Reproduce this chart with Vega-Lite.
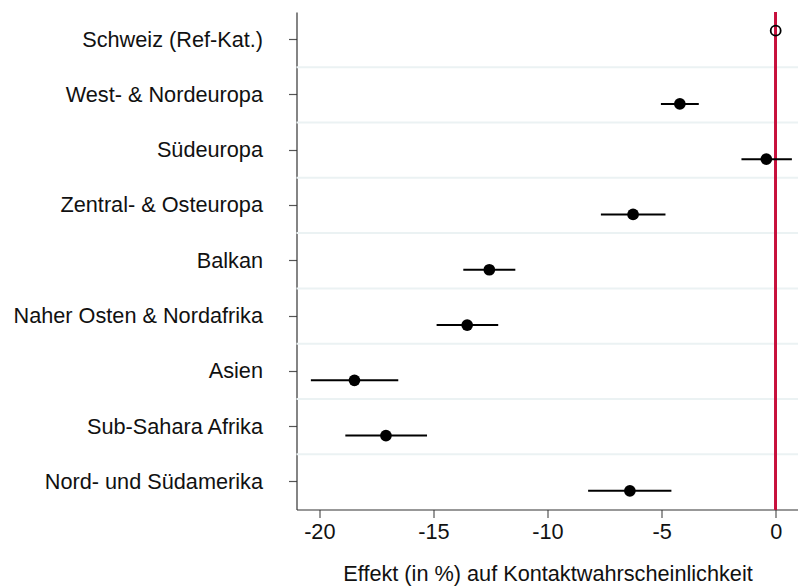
{
  "$schema": "https://vega.github.io/schema/vega-lite/v6.json",
  "width": 502,
  "height": 497.5,
  "autosize": {"type": "none"},
  "padding": {"left": 296.5, "top": 12, "right": 0, "bottom": 77.5},
  "background": "white",
  "config": {
    "view": {"stroke": null},
    "font": "Liberation Sans",
    "axis": {
      "labelFont": "Liberation Sans",
      "titleFont": "Liberation Sans",
      "labelFontSize": 21.7,
      "titleFontSize": 21.7,
      "titleFontWeight": "normal",
      "labelColor": "#111111",
      "titleColor": "#111111",
      "domainColor": "#333333",
      "domainWidth": 1.2,
      "tickColor": "#555555",
      "tickWidth": 1.2,
      "tickSize": 8,
      "grid": false
    }
  },
  "data": {
    "values": [
      {"region": "Schweiz (Ref-Kat.)", "grp": "ref", "est": 0, "lo": null, "hi": null},
      {"region": "West- & Nordeuropa", "grp": "est", "est": -4.2, "lo": -5.03, "hi": -3.37},
      {"region": "Südeuropa", "grp": "est", "est": -0.41, "lo": -1.5, "hi": 0.71},
      {"region": "Zentral- & Osteuropa", "grp": "est", "est": -6.25, "lo": -7.66, "hi": -4.83},
      {"region": "Balkan", "grp": "est", "est": -12.55, "lo": -13.69, "hi": -11.41},
      {"region": "Naher Osten & Nordafrika", "grp": "est", "est": -13.52, "lo": -14.86, "hi": -12.16},
      {"region": "Asien", "grp": "est", "est": -18.46, "lo": -20.37, "hi": -16.54},
      {"region": "Sub-Sahara Afrika", "grp": "est", "est": -17.08, "lo": -18.86, "hi": -15.28},
      {"region": "Nord- und Südamerika", "grp": "est", "est": -6.39, "lo": -8.22, "hi": -4.57}
    ]
  },
  "layer": [
    {
      "transform": [{"filter": "datum.grp == 'est'"}],
      "mark": {"type": "rule", "color": "#ebf2f3", "strokeWidth": 2},
      "encoding": {
        "y": {
          "field": "region", "type": "nominal", "bandPosition": 0,
          "scale": {"type": "band", "paddingInner": 0, "paddingOuter": 0,
            "domain": ["Schweiz (Ref-Kat.)", "West- & Nordeuropa", "Südeuropa", "Zentral- & Osteuropa", "Balkan", "Naher Osten & Nordafrika", "Asien", "Sub-Sahara Afrika", "Nord- und Südamerika"]},
          "axis": {"title": null, "labelPadding": 26, "labelLimit": 400, "labelFontSize": 21.7}
        }
      }
    },
    {
      "mark": {"type": "rule", "color": "#c8103c", "strokeWidth": 2},
      "encoding": {
        "x": {"datum": 0, "type": "quantitative",
          "scale": {"domain": [-21, 1], "nice": false, "zero": false},
          "axis": {"title": "Effekt (in %) auf Kontaktwahrscheinlichkeit", "values": [-20, -15, -10, -5, 0], "labelPadding": 4, "titlePadding": 20, "labelFlush": false,
            "labelExpr": "replace(datum.label, '\u2212', '-')"}
        }
      }
    },
    {
      "transform": [{"filter": "datum.grp == 'est'"}],
      "mark": {"type": "rule", "color": "black", "strokeWidth": 2},
      "encoding": {
        "y": {"field": "region", "type": "nominal"},
        "yOffset": {"field": "grp", "type": "nominal",
          "scale": {"domain": ["ref", "est"], "paddingInner": 0, "paddingOuter": 0.536}},
        "x": {"field": "lo", "type": "quantitative"},
        "x2": {"field": "hi"}
      }
    },
    {
      "transform": [{"filter": "datum.grp == 'est'"}],
      "mark": {"type": "point", "filled": true, "color": "black", "opacity": 1, "size": 137},
      "encoding": {
        "y": {"field": "region", "type": "nominal"},
        "yOffset": {"field": "grp", "type": "nominal",
          "scale": {"domain": ["ref", "est"], "paddingInner": 0, "paddingOuter": 0.536}},
        "x": {"field": "est", "type": "quantitative"}
      }
    },
    {
      "transform": [{"filter": "datum.grp == 'ref'"}],
      "mark": {"type": "point", "filled": false, "color": "black", "opacity": 1, "size": 100, "strokeWidth": 1.8},
      "encoding": {
        "y": {"field": "region", "type": "nominal"},
        "yOffset": {"field": "grp", "type": "nominal",
          "scale": {"domain": ["ref", "est"], "paddingInner": 0, "paddingOuter": 0.536}},
        "x": {"field": "est", "type": "quantitative"}
      }
    }
  ]
}
